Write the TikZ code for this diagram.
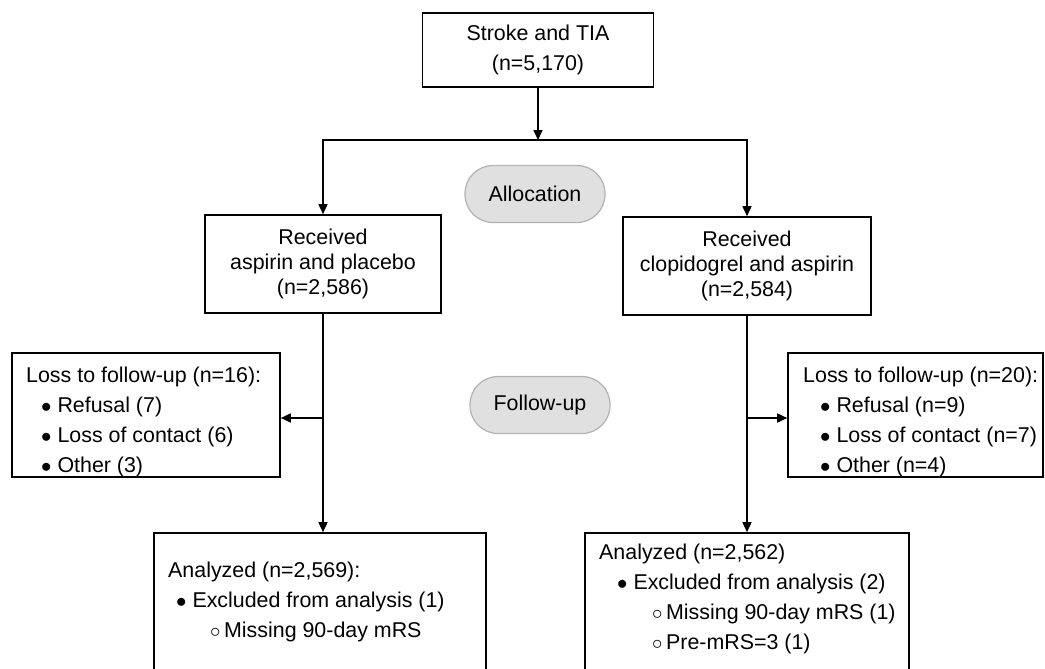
\documentclass[tikz,border=0pt]{standalone}
\usepackage{fontspec}
\setmainfont{Liberation Sans}
\usepackage{tikz}
\usetikzlibrary{arrows.meta}
\tikzstyle{box}=[draw, line width=1.6pt, inner sep=0pt, align=center]
\tikzstyle{phase}=[draw=black!30, fill=black!12, line width=1.2pt, rounded corners=28pt, minimum width=140pt, minimum height=57pt]
\tikzstyle{list}=[anchor=north west, inner sep=0pt, align=left]
\tikzstyle{line}=[line width=1.6pt]
\tikzstyle{arrow}=[line, -{Triangle[length=10pt, width=9pt]}]
\newcommand{\lvlone}[1]{\hspace*{#1}$\bullet$\ }
\newcommand{\lvltwo}[1]{\hspace*{#1}$\circ$\,}

\begin{document}
\begin{tikzpicture}[x=1pt, y=-1pt, font=\fontsize{21.4}{30}\selectfont]
      \useasboundingbox (0,0) rectangle (1045,669);

      \node[box, minimum width=231pt, minimum height=74pt] (cohort) at (538,50) {Stroke and TIA\\(n=5,170)};
      \coordinate (split) at (538,140);
      \node[phase] (allocation) at (535,194) {Allocation};
      \node[box, minimum width=236pt, minimum height=98pt, font=\fontsize{21.4}{25}\selectfont] (aspirin) at (323,264) {Received\\aspirin and placebo\\(n=2,586)};
      \node[box, minimum width=248pt, minimum height=98pt, font=\fontsize{21.4}{25}\selectfont] (clopidogrel) at (747,266) {Received\\clopidogrel and aspirin\\(n=2,584)};
      \node[phase] (followUp) at (540,405) {Follow-up};

      \node[box, minimum width=268pt, minimum height=124pt] (lossLeft) at (146,415) {};
      \node[list] (lossLeftText) at (26,367) {Loss to follow-up (n=16):\\
        \lvlone{15pt}Refusal (7)\\
        \lvlone{15pt}Loss of contact (6)\\
        \lvlone{15pt}Other (3)};
      \node[box, minimum width=255pt, minimum height=124pt] (lossRight) at (915.5,415) {};
      \node[list] (lossRightText) at (803,367) {Loss to follow-up (n=20):\\
        \lvlone{17pt}Refusal (n=9)\\
        \lvlone{17pt}Loss of contact (n=7)\\
        \lvlone{17pt}Other (n=4)};

      \node[box, minimum width=332pt, minimum height=160pt] (analyzedLeft) at (320,613) {};
      \node[list] (analyzedLeftText) at (168,562) {Analyzed (n=2,569):\\
        \lvlone{8pt}Excluded from analysis (1)\\
        \lvltwo{42pt}Missing 90-day mRS};
      \node[box, minimum width=324pt, minimum height=160pt] (analyzedRight) at (747,613) {};
      \node[list] (analyzedRightText) at (599,544) {Analyzed (n=2,562)\\
        \lvlone{18pt}Excluded from analysis (2)\\
        \lvltwo{53pt}Missing 90-day mRS (1)\\
        \lvltwo{53pt}Pre-mRS=3 (1)};

      \coordinate (branchLeft) at (323,418);
      \coordinate (branchRight) at (747,418);

      \draw[arrow] (cohort) -- (split);
      \draw[arrow] (split) -| (aspirin.north);
      \draw[arrow] (split) -| (clopidogrel.north);
      \draw[arrow] (aspirin.south) -- (aspirin.south |- analyzedLeft.north);
      \draw[arrow] (clopidogrel.south) -- (clopidogrel.south |- analyzedRight.north);
      \draw[arrow] (branchLeft) -- (branchLeft -| lossLeft.east);
      \draw[arrow] (branchRight) -- (branchRight -| lossRight.west);
\end{tikzpicture}
\end{document}
